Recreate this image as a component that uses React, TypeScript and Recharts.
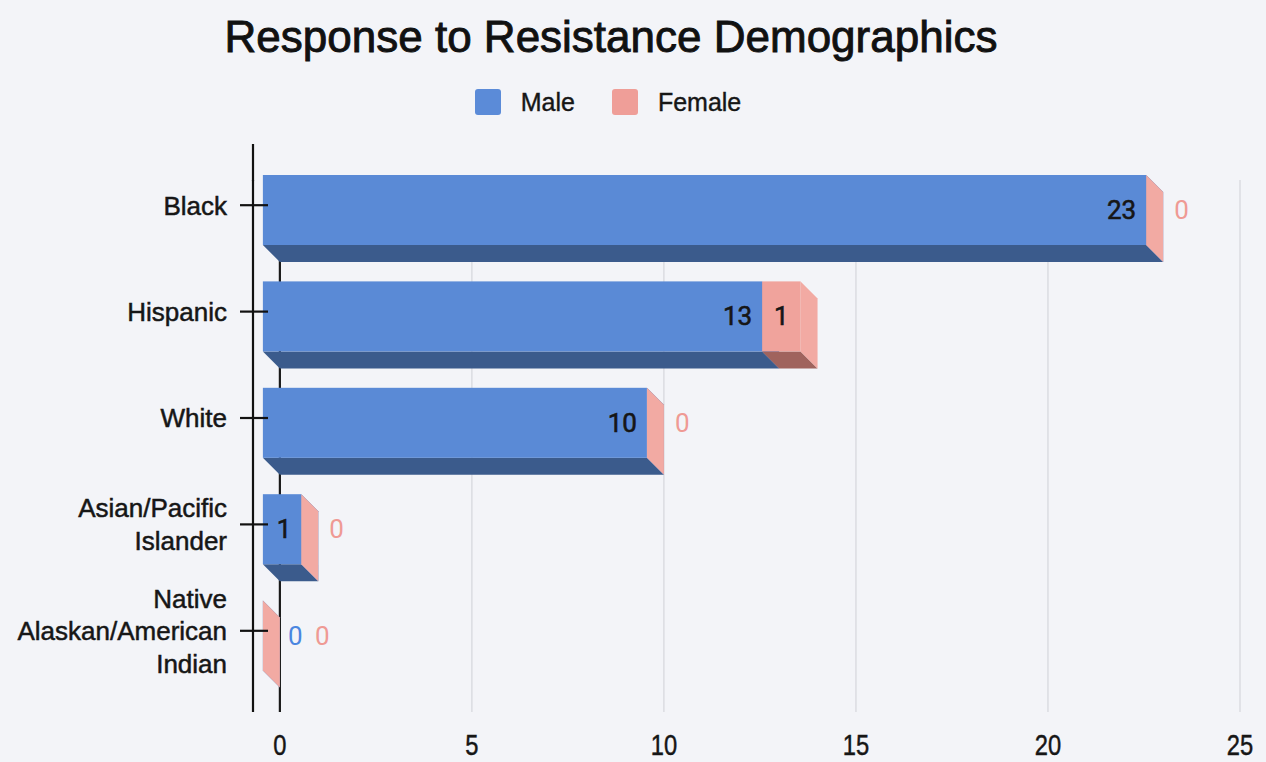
import React from 'react';
import { BarChart, Bar, XAxis, YAxis, CartesianGrid, LabelList, Legend } from 'recharts';

// ---- data ----
const title = 'Response to Resistance Demographics';
const categories = ['Black', 'Hispanic', 'White', 'Asian/Pacific\nIslander', 'Native\nAlaskan/American\nIndian'];
const maleValues = [23, 13, 10, 1, 0];
const femaleValues = [0, 1, 0, 0, 0];
const seriesNames = ['Male', 'Female'];
const xTicks = [0, 5, 10, 15, 20, 25];

const data = categories.map((c, i) => ({ category: c, male: maleValues[i], female: femaleValues[i] }));

// ---- layout / style ----
const W = 1266;
const H = 762;
const PLOT_TOP = 180;
const DEPTH = 17;
const LIFT = 23;
const TICK_SHIFT = 28;
const SANS = '"Liberation Sans", Arial, sans-serif';
const ROBOTO = 'Roboto, "Liberation Sans", sans-serif';
const INK = '#161616';

const COLORS = {
  male: { front: '#5a8ad6', bottom: '#3b5b8c', side: '#4a76bd', legend: '#5b8bd8', zero: '#4a86e0' },
  female: { front: '#f0a39c', bottom: '#a0635d', side: '#f2aaa3', legend: '#ef9e98', zero: '#ef9a94' },
};

const box = (c: { front: string; bottom: string; side: string }) => (props: any) => {
  const { x, y, width, height } = props;
  const w = Math.max(0, Number(width) || 0);
  const h = Number(height) || 0;
  const fx = x - DEPTH;
  const fy = y - LIFT;
  const bottomPts = `${fx},${fy + h} ${fx + w},${fy + h} ${fx + w + DEPTH},${fy + h + DEPTH} ${fx + DEPTH},${fy + h + DEPTH}`;
  const sidePts = `${fx + w},${fy} ${fx + w + DEPTH},${fy + DEPTH} ${fx + w + DEPTH},${fy + h + DEPTH} ${fx + w},${fy + h}`;
  return (
    <g>
      {w > 0 && <polygon points={bottomPts} fill={c.bottom} />}
      <polygon points={sidePts} fill={c.side} />
      {w > 0 && <rect x={fx} y={fy} width={w} height={h} fill={c.front} />}
    </g>
  );
};

const getVB = (props: any) => {
  const vb = props.viewBox && props.viewBox.width !== undefined ? props.viewBox : props;
  return { x: Number(vb.x), y: Number(vb.y), width: Number(vb.width) || 0, height: Number(vb.height) || 0 };
};

const labelText = (x: number, y: number, anchor: string, fill: string, v: number, bold: boolean) => (
  <text
    x={x}
    y={y}
    textAnchor={anchor as any}
    dominantBaseline="central"
    fontFamily={ROBOTO}
    fontSize={26}
    fill={fill}
    stroke={bold ? fill : 'none'}
    strokeWidth={bold ? 0.6 : 0}
  >
    {v}
  </text>
);

const MaleLabel = (props: any) => {
  const { x, y, width, height } = getVB(props);
  const v = Number(props.value);
  const cy = y - LIFT + height / 2;
  const frontRight = x - DEPTH + width;
  if (v > 0) return labelText(frontRight - 10, cy, 'end', INK, v, true);
  return labelText(frontRight + 25, cy, 'start', COLORS.male.zero, v, false);
};

const FemaleLabel = (props: any) => {
  const { x, y, width, height } = getVB(props);
  const v = Number(props.value);
  const idx = props.index;
  const cy = y - LIFT + height / 2;
  if (v > 0) return labelText(x - DEPTH + width / 2, cy, 'middle', INK, v, true);
  const maleZero = idx !== undefined && maleValues[idx] === 0;
  return labelText(x + width + (maleZero ? 35 : 11), cy, 'start', COLORS.female.zero, v, false);
};

const CategoryTick = (props: any) => {
  const { x, y, payload, index } = props;
  const lines = String(payload.value).split('\n');
  const ty = y - TICK_SHIFT;
  return (
    <g>
      {index === 0 && <line x1={x} x2={x} y1={PLOT_TOP - 36} y2={PLOT_TOP + 1} stroke="#111" strokeWidth={2.2} />}
      <line x1={x - 13} x2={x + 15} y1={ty} y2={ty} stroke="#111" strokeWidth={2.2} />
      {lines.map((l, i) => (
        <text
          key={i}
          x={x - 26}
          y={ty + (i - (lines.length - 1) / 2) * 32.5 + 9.3}
          textAnchor="end"
          fontFamily={SANS}
          fontSize={26}
          fill={INK}
          stroke={INK}
          strokeWidth={0.5}
        >
          {l}
        </text>
      ))}
    </g>
  );
};

const ValueTick = (props: any) => {
  const { x, y, payload } = props;
  return (
    <text
      transform={`translate(${x},${y + 43}) scale(0.95,1.15)`}
      x={0}
      y={0}
      textAnchor="middle"
      fontFamily={SANS}
      fontSize={25}
      fill={INK}
      stroke={INK}
      strokeWidth={0.4}
    >
      {payload.value}
    </text>
  );
};

const LegendContent = () => (
  <div
    style={{
      display: 'flex',
      justifyContent: 'center',
      alignItems: 'center',
      width: 1216,
      height: 36,
      fontFamily: SANS,
      fontSize: 25,
      color: INK,
      WebkitTextStroke: '0.4px #161616',
    }}
  >
    {seriesNames.map((n, i) => (
      <div key={n} style={{ display: 'flex', alignItems: 'center', marginRight: i === 0 ? 37 : 0 }}>
        <span
          style={{
            display: 'inline-block',
            width: 26,
            height: 26,
            borderRadius: 3,
            background: i === 0 ? COLORS.male.legend : COLORS.female.legend,
            marginRight: 20,
          }}
        />
        <span>{n}</span>
      </div>
    ))}
  </div>
);

const GridLine = (p: any) => (
  <line
    key={p.key ?? `g-${p.index}`}
    x1={p.x1}
    y1={p.y1}
    x2={p.x2}
    y2={p.y2}
    stroke={p.index === 0 ? '#1a1a1a' : '#cfd0d6'}
    strokeWidth={p.index === 0 ? 2.2 : 1}
  />
);

export default function App() {
  return (
    <div style={{ position: 'absolute', left: 0, top: 0, width: W, height: H, background: '#f3f4f8', overflow: 'hidden' }}>
      <div
        style={{
          position: 'absolute',
          top: 12,
          left: 0,
          width: 1222,
          textAlign: 'center',
          fontFamily: SANS,
          fontSize: 44,
          lineHeight: '50px',
          color: '#111',
          WebkitTextStroke: '0.9px #111',
          zIndex: 2,
        }}
      >
        {title}
      </div>
      <BarChart
        width={W}
        height={H}
        data={data}
        layout="vertical"
        margin={{ top: PLOT_TOP, right: 26, bottom: 0, left: 0 }}
        barSize={70}
      >
        <CartesianGrid horizontal={false} vertical={GridLine as any} syncWithTicks />
        <XAxis
          type="number"
          domain={[-0.7, 25]}
          ticks={xTicks}
          axisLine={false}
          tickLine={false}
          tickSize={0}
          tickMargin={0}
          height={50}
          tick={<ValueTick />}
          interval={0}
        />
        <YAxis
          type="category"
          dataKey="category"
          width={253}
          axisLine={{ stroke: '#111', strokeWidth: 2.2 }}
          tickLine={false}
          tickSize={0}
          tickMargin={0}
          tick={<CategoryTick />}
          interval={0}
        />
        <Legend
          layout="horizontal"
          verticalAlign="middle"
          align="center"
          wrapperStyle={{ position: 'absolute', top: 84, left: 0, width: W, height: 36 }}
          content={() => <LegendContent />}
        />
        <Bar dataKey="male" name={seriesNames[0]} stackId="s" fill={COLORS.male.front} shape={box(COLORS.male)} isAnimationActive={false}>
          <LabelList dataKey="male" content={<MaleLabel />} />
        </Bar>
        <Bar dataKey="female" name={seriesNames[1]} stackId="s" fill={COLORS.female.front} shape={box(COLORS.female)} isAnimationActive={false}>
          <LabelList dataKey="female" content={<FemaleLabel />} />
        </Bar>
      </BarChart>
    </div>
  );
}
